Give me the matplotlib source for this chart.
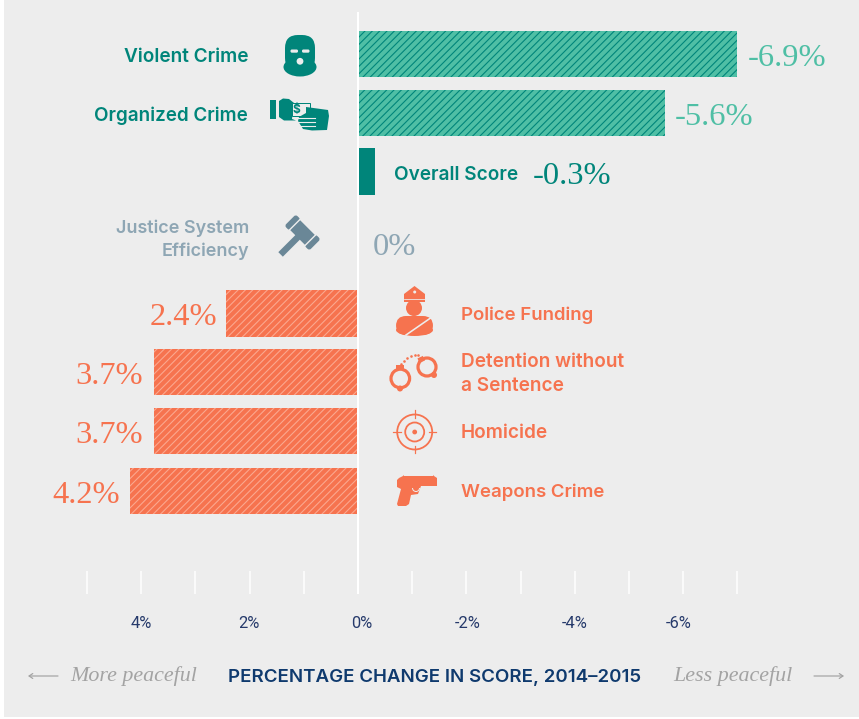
import matplotlib
matplotlib.use('Agg')
import matplotlib.pyplot as plt
from matplotlib.patches import Rectangle, Circle, Ellipse, Polygon, FancyBboxPatch, Arc
from matplotlib.transforms import Affine2D

# values
categories = ['Violent Crime', 'Organized Crime', 'Overall Score', 'Justice System\nEfficiency',
              'Police Funding', 'Detention without\na Sentence', 'Homicide', 'Weapons Crime']
bar_lengths = [-7.0, -5.66, -0.31, 0, 2.43, 3.76, 3.76, 4.2]
value_labels = ['-6.9%', '-5.6%', '-0.3%', '0%', '2.4%', '3.7%', '3.7%', '4.2%']
rows = [0, 1, 1.985, 3.2, 4.38, 5.37, 6.37, 7.38]
tick_values = [5, 4, 3, 2, 1, 0, -1, -2, -3, -4, -5, -6, -7]
tick_labels = ['4%', '2%', '0%', '-2%', '-4%', '-6%']
tick_label_values = [4, 2, 0, -2, -4, -6]

# colors
BG = '#ededed'
TEAL = '#00857a'
TEAL_LIGHT = '#4fbfa5'
GREY = '#8ea6b4'
GREY_DARK = '#6a8797'
ORANGE = '#f6734f'
ORANGE_HATCH = '#fba88f'
NAVY = '#263a6b'

W, H = 859, 719
DPI = 88
PT = 72 / DPI  # one pixel in points
SANS = 'Inter'
SERIF = 'Liberation Serif'

plt.rcParams['hatch.linewidth'] = 1.1 * PT

fig = plt.figure(figsize=((W + 0.01) / DPI, (H + 0.01) / DPI), dpi=DPI, facecolor='white')

# panel + pixel overlay for labels and icons
pix = fig.add_axes([0, 0, 1, 1], zorder=3)
pix.set_xlim(0, W)
pix.set_ylim(H, 0)
pix.axis('off')
pix.patch.set_alpha(0)

back = fig.add_axes([0, 0, 1, 1], zorder=0)
back.set_xlim(0, W)
back.set_ylim(H, 0)
back.axis('off')
back.add_patch(Rectangle((4, 0), W - 4, 717, fc=BG, ec='none'))

# main axes: 0 at px 358, 54.2 px per percentage point
top_px, bottom_px = 12, 594
ax = fig.add_axes([0, 1 - bottom_px / H, 1, (bottom_px - top_px) / H], zorder=1)
ax.patch.set_alpha(0)
ax.set_xlim(358 / 54.2, -(W - 358) / 54.2)
ax.set_ylim((bottom_px - 54) / 59.2, (top_px - 54) / 59.2)
for s in ax.spines.values():
    s.set_visible(False)
ax.set_yticks([])
ax.set_xticks(tick_values)
ax.set_xticklabels([])
ax.tick_params(axis='x', direction='in', length=23 * PT, width=1.5 * PT, color='white')
ax.axvline(0, color='white', lw=2 * PT, zorder=5)

for i, (v, r) in enumerate(zip(bar_lengths, rows)):
    if v == 0:
        continue
    if i == 2:
        ax.barh(r, v, height=0.785, color=TEAL, lw=0)
    elif v < 0:
        ax.barh(r, v, height=0.785, facecolor=TEAL_LIGHT, edgecolor=TEAL, hatch='////', lw=0)
    else:
        ax.barh(r, v, height=0.785, facecolor=ORANGE, edgecolor=ORANGE_HATCH, hatch='////', lw=0)

# value labels, placed from the bar ends
value_colors = [TEAL_LIGHT, TEAL_LIGHT, TEAL, GREY, ORANGE, ORANGE, ORANGE, ORANGE]
value_offsets = [10, 10, 158, 15, -9, -11, -11, -10]
for v, r, lab, c, off in zip(bar_lengths, rows, value_labels, value_colors, value_offsets):
    ax.annotate(lab, (v, r), xytext=(off, -1), textcoords='offset pixels', color=c,
                ha='left' if off > 0 else 'right', va='center_baseline',
                family=SERIF, fontsize=32.5 * PT)

# tick labels
tick_shift = [0, -1, 4, 1, 0, -5]
for v, lab, dx in zip(tick_label_values, tick_labels, tick_shift):
    ax.annotate(lab, (v, 0), xycoords=ax.get_xaxis_transform(), xytext=(dx, -29),
                textcoords='offset pixels', ha='center', va='center', color=NAVY,
                family='Roboto', fontsize=16.5 * PT)

# category labels
lab_style = dict(family=SANS, weight='semibold', linespacing=1.42)
pix.text(248, 57, categories[0], color=TEAL, ha='right', va='center', fontsize=19 * PT, **lab_style)
pix.text(248, 116, categories[1], color=TEAL, ha='right', va='center', fontsize=18.8 * PT, **lab_style)
pix.text(394, 175, categories[2], color=TEAL, ha='left', va='center', fontsize=19 * PT, **lab_style)
pix.text(249, 240, categories[3], color=GREY, ha='right', va='center', multialignment='right', fontsize=18 * PT, **lab_style)
pix.text(461, 315, categories[4], color=ORANGE, ha='left', va='center', fontsize=18.6 * PT, **lab_style)
pix.text(461, 374, categories[5], color=ORANGE, ha='left', va='center', fontsize=19 * PT, **lab_style)
pix.text(461, 433, categories[6], color=ORANGE, ha='left', va='center', fontsize=19 * PT, **lab_style)
pix.text(461, 492, categories[7], color=ORANGE, ha='left', va='center', fontsize=18.6 * PT, **lab_style)

# bottom caption
pix.text(435, 677, 'PERCENTAGE CHANGE IN SCORE, 2014\u20132015', color='#0f3a6e', ha='center', va='center',
         family=SANS, weight='semibold', fontsize=18.7 * PT)
pix.text(70, 676.5, 'More peaceful', color='#a3a3a3', ha='left', va='center', family=SERIF, style='italic', fontsize=22 * PT)
pix.text(793, 676.5, 'Less peaceful', color='#a3a3a3', ha='right', va='center', family=SERIF, style='italic', fontsize=22 * PT)
for x0, x1 in [(58, 28), (814, 844)]:
    pix.annotate('', xy=(x1, 676), xytext=(x0, 676),
                 arrowprops=dict(arrowstyle='->,head_length=0.3,head_width=0.2', color='#a3a3a3', lw=1.2 * PT, shrinkA=0, shrinkB=0))


# icons, all in pixel coords
def add(p):
    pix.add_patch(p)
    return p


def mask_icon():
    add(FancyBboxPatch((287, 37), 26, 32, boxstyle='round,pad=2,rounding_size=13', fc=TEAL, ec='none'))
    add(Ellipse((300, 67), 33, 19, fc=TEAL, ec='none'))
    add(FancyBboxPatch((290.5, 49.5), 7.5, 3.2, boxstyle='round,pad=0,rounding_size=1.4', fc=BG, ec='none'))
    add(FancyBboxPatch((302, 49.5), 7.5, 3.2, boxstyle='round,pad=0,rounding_size=1.4', fc=BG, ec='none'))
    add(Circle((300, 61.3), 3.4, fc=BG, ec='none'))


def money_icon():
    add(Rectangle((270, 100), 6, 19, fc=TEAL, ec='none'))
    # left hand holding the note
    add(Polygon([(279, 101), (283, 98.5), (289, 99), (294, 103), (296, 108), (293, 109), (292, 119), (296, 120.5),
                 (284, 120.5), (279, 117)], fc=TEAL, ec='none'))
    add(Rectangle((292, 103), 18, 13, fc=BG, ec=TEAL, lw=1 * PT))
    pix.text(296.5, 110, '$', color=TEAL, ha='center', va='center', family=SANS, weight='bold', fontsize=12 * PT)
    # right hand with fingers
    add(Polygon([(306, 107), (328, 110), (329, 116), (327, 130), (312, 130.5), (303, 129), (298, 121), (299, 117), (306, 113)],
                fc=TEAL, ec='none'))
    for x0, y in [(297, 118.5), (298, 122.5), (301, 126.5)]:
        pix.plot([x0, 315], [y, y], color=BG, lw=1.1 * PT)


def gavel_icon():
    rot = Affine2D().rotate_deg(-45).translate(302.5, 232.5) + pix.transData
    add(Rectangle((-7, -11), 14, 22, fc=GREY_DARK, ec='none', transform=rot))
    add(Rectangle((-31, -3.2), 26, 6.4, fc=GREY_DARK, ec='none', transform=rot))
    add(FancyBboxPatch((-8, -17.5), 16, 7, boxstyle='round,pad=0,rounding_size=2.5', fc=GREY_DARK, ec='none', transform=rot))
    add(FancyBboxPatch((-8, 10.5), 16, 7, boxstyle='round,pad=0,rounding_size=2.5', fc=GREY_DARK, ec='none', transform=rot))
    for yy in (-11, 11):
        add(Rectangle((-8, yy - 0.7), 16, 1.4, fc=BG, ec='none', transform=rot))


def police_icon():
    add(Polygon([(404, 294), (414.5, 286), (425, 294), (425, 302), (404, 302)], fc=ORANGE, ec='none'))
    pix.plot([404, 425], [299, 299], color=BG, lw=0.8 * PT)
    add(Circle((414.7, 292), 1.5, fc=BG, ec='none'))
    add(Circle((414, 308), 8, fc=ORANGE, ec='none'))
    add(FancyBboxPatch((397, 317), 35, 17, boxstyle='round,pad=1,rounding_size=10', fc=ORANGE, ec='none'))
    add(Ellipse((414.5, 330), 37, 12, fc=ORANGE, ec='none'))
    pix.plot([406, 432], [335, 317], color=BG, lw=1.6 * PT)


def cuffs_icon():
    add(Circle((400.3, 378.5), 9.3, fc='none', ec=ORANGE, lw=3.2 * PT))
    add(Circle((427, 367), 9, fc='none', ec=ORANGE, lw=3.2 * PT))
    add(Rectangle((396, 365.5), 8, 5, fc=ORANGE, ec='none'))
    add(Rectangle((418, 357), 6, 5, fc=ORANGE, ec='none', transform=Affine2D().rotate_deg_around(421, 359, -25) + pix.transData))
    add(Circle((400, 388.5), 3, fc=ORANGE, ec='none'))
    add(Circle((434, 375), 3, fc=ORANGE, ec='none'))
    pix.plot([401, 404, 407, 411, 415, 418], [364, 361, 358.5, 356.5, 355.5, 355.5], ls='none', marker='o',
             ms=2.6 * PT, color=ORANGE, mew=0)


def target_icon():
    cx, cy = 414.7, 432
    add(Circle((cx, cy), 17.5, fc='none', ec=ORANGE, lw=1.8 * PT))
    add(Circle((cx, cy), 9.5, fc='none', ec=ORANGE, lw=1.8 * PT))
    add(Circle((cx, cy), 2.4, fc=ORANGE, ec='none'))
    for a, b in [((cx - 21.5, cy), (cx - 14, cy)), ((cx + 14, cy), (cx + 21.5, cy)),
                 ((cx, cy - 21.5), (cx, cy - 14)), ((cx, cy + 14), (cx, cy + 21.5))]:
        pix.plot([a[0], b[0]], [a[1], b[1]], color=ORANGE, lw=1.2 * PT)


def gun_icon():
    add(Polygon([(399, 478), (403, 476), (403, 475), (404, 476), (433, 476), (433, 475), (434, 476), (437, 478),
                 (437, 486), (421, 486), (418, 494), (411, 495), (409, 504), (406, 506), (398, 506), (397, 504),
                 (401, 489), (397, 487), (397, 480)], fc=ORANGE, ec='none'))
    add(Arc((416, 488), 7, 7, theta1=0, theta2=180, ec=BG, lw=1 * PT))


mask_icon()
money_icon()
gavel_icon()
police_icon()
cuffs_icon()
target_icon()
gun_icon()

fig.savefig('out.png', dpi=DPI, facecolor='white')
